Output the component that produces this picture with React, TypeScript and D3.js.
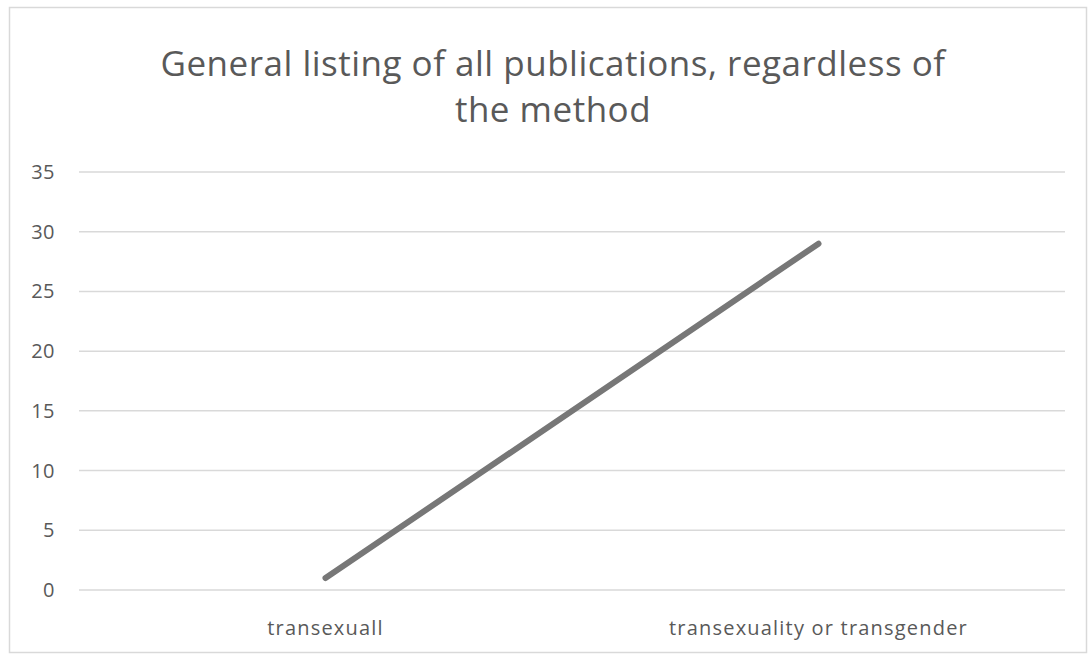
import React, { useEffect, useRef } from "react";
import * as d3 from "d3";

const categories: string[] = ["transexuall", "transexuality or transgender"];
const publications: number[] = [1, 29];
const yTicks: number[] = [0, 5, 10, 15, 20, 25, 30, 35];
const titleLines: string[] = [
  "General listing of all publications, regardless of",
  "the method",
];

const W = 1090;
const H = 656;

export default function App() {
  const ref = useRef<SVGSVGElement | null>(null);

  useEffect(() => {
    const svg = d3.select(ref.current);
    svg.selectAll("*").remove();

    const font = "'Open Sans', sans-serif";
    const margin = { left: 79, right: 25, top: 172, bottom: 66 };

    svg
      .append("rect")
      .attr("x", 9.5)
      .attr("y", 7.5)
      .attr("width", W - 13)
      .attr("height", H - 11)
      .attr("fill", "#fff")
      .attr("stroke", "#d9d9d9")
      .attr("stroke-width", 1.5);

    const x = d3
      .scaleBand<string>()
      .domain(categories)
      .range([margin.left, W - margin.right]);
    const y = d3
      .scaleLinear()
      .domain([0, 35])
      .range([H - margin.bottom, margin.top]);

    // horizontal gridlines
    svg
      .append("g")
      .selectAll("line")
      .data(yTicks)
      .join("line")
      .attr("x1", margin.left)
      .attr("x2", W - margin.right)
      .attr("y1", (d) => y(d))
      .attr("y2", (d) => y(d))
      .attr("stroke", "#d9d9d9")
      .attr("stroke-width", 1.5);

    // y tick labels
    svg
      .append("g")
      .selectAll("text")
      .data(yTicks)
      .join("text")
      .attr("x", 55)
      .attr("y", (d) => y(d))
      .attr("dy", "0.35em")
      .attr("text-anchor", "end")
      .attr("font-family", font)
      .attr("font-size", 20)
      .attr("letter-spacing", 0.5)
      .attr("fill", "#595959")
      .text((d) => String(d));

    // category labels
    svg
      .append("g")
      .selectAll("text")
      .data(categories)
      .join("text")
      .attr("x", (d) => (x(d) as number) + x.bandwidth() / 2)
      .attr("y", 628)
      .attr("dy", "0.35em")
      .attr("text-anchor", "middle")
      .attr("font-family", font)
      .attr("font-size", 20)
      .attr("letter-spacing", 1.2)
      .attr("fill", "#595959")
      .text((d) => d);

    // series line
    const line = d3
      .line<number>()
      .x((_, i) => (x(categories[i]) as number) + x.bandwidth() / 2)
      .y((d) => y(d));
    svg
      .append("path")
      .datum(publications)
      .attr("d", line)
      .attr("fill", "none")
      .attr("stroke", "#777777")
      .attr("stroke-width", 6)
      .attr("stroke-linecap", "round");

    // title
    svg
      .append("g")
      .selectAll("text")
      .data(titleLines)
      .join("text")
      .attr("x", 553)
      .attr("y", (_, i) => 64 + i * 46)
      .attr("dy", "0.35em")
      .attr("text-anchor", "middle")
      .attr("font-family", font)
      .attr("font-size", 35)
      .attr("letter-spacing", 0.5)
      .attr("fill", "#595959")
      .text((d) => d);
  }, []);

  return (
    <svg
      ref={ref}
      width={W}
      height={H}
      style={{ position: "absolute", left: 0, top: 0, display: "block" }}
    />
  );
}
